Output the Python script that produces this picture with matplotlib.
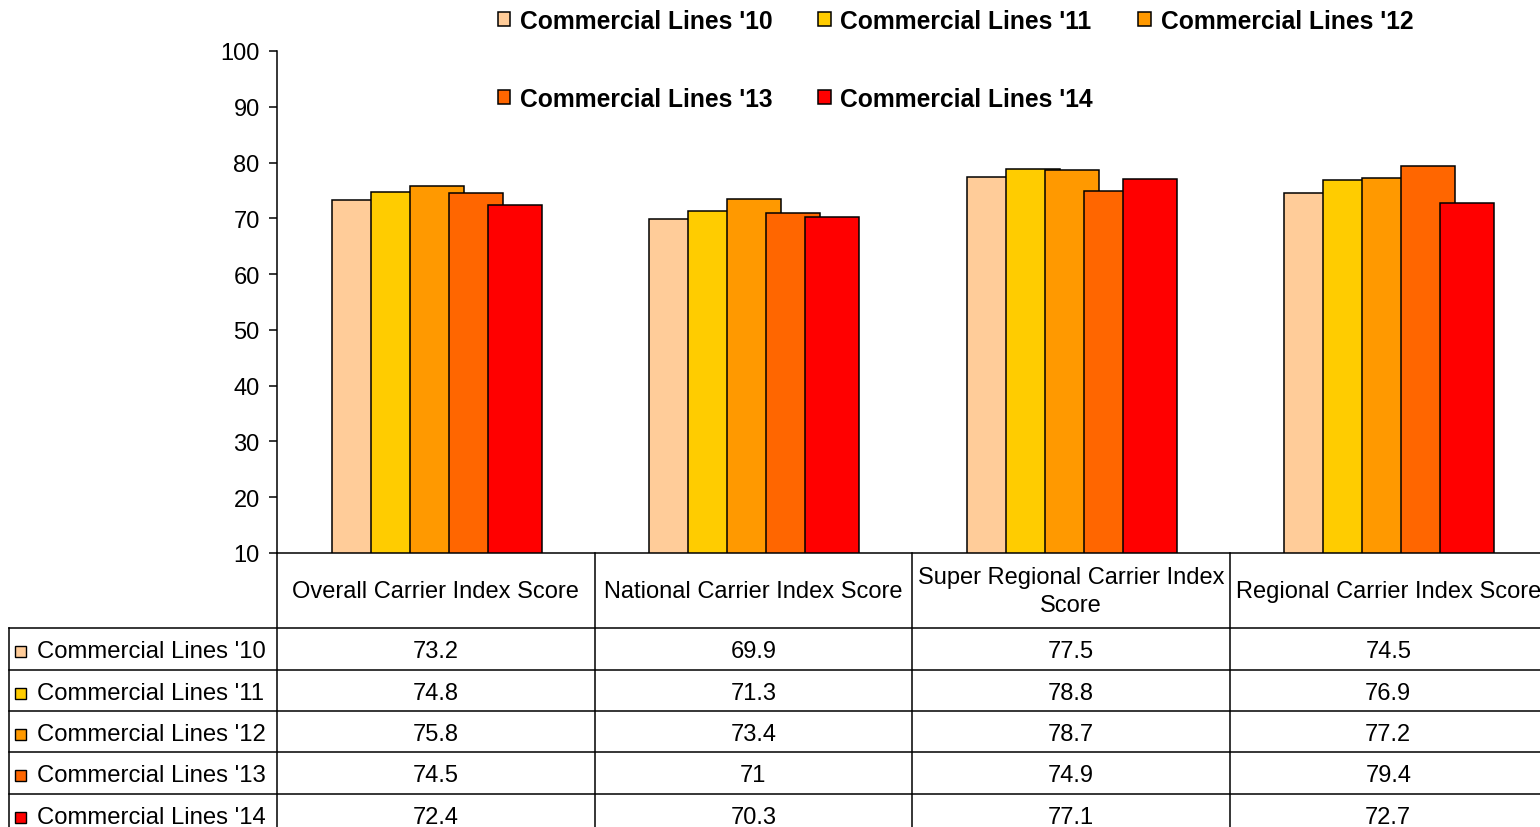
import matplotlib
matplotlib.use("Agg")
import matplotlib.pyplot as plt
import numpy as np
from matplotlib.patches import Rectangle
from matplotlib.transforms import blended_transform_factory

plt.rcParams['font.family'] = ['Liberation Sans', 'DejaVu Sans']

categories = ["Overall Carrier Index Score", "National Carrier Index Score",
              "Super Regional Carrier Index\nScore", "Regional Carrier Index Score"]
series = ["Commercial Lines '10", "Commercial Lines '11", "Commercial Lines '12",
          "Commercial Lines '13", "Commercial Lines '14"]
cl10 = [73.2, 69.9, 77.5, 74.5]
cl11 = [74.8, 71.3, 78.8, 76.9]
cl12 = [75.8, 73.4, 78.7, 77.2]
cl13 = [74.5, 71.0, 74.9, 79.4]
cl14 = [72.4, 70.3, 77.1, 72.7]
table_text = [["73.2", "69.9", "77.5", "74.5"],
              ["74.8", "71.3", "78.8", "76.9"],
              ["75.8", "73.4", "78.7", "77.2"],
              ["74.5", "71", "74.9", "79.4"],
              ["72.4", "70.3", "77.1", "72.7"]]
colors = ["#FFCC99", "#FFCC00", "#FF9900", "#FF6600", "#FF0000"]
values = [cl10, cl11, cl12, cl13, cl14]

W, H = 1540, 828
fig = plt.figure(figsize=(W / 100, H / 100), dpi=100)


def fx(p):
    return p / W


def fy(p):
    return 1 - p / H


ax_left, ax_right = 277, 1547
ax = fig.add_axes([fx(ax_left), fy(554), fx(ax_right) - fx(ax_left), fy(52) - fy(554)])
unit = (ax_right - ax_left) / 4.0


def dx(p):
    # pixel x -> data x
    return -0.5 + (p - ax_left) / unit


x = np.arange(len(categories))
pitch = 39 / unit
width = 54 / unit
start = -104 / unit
handles = []
for i, (name, vals, col) in enumerate(zip(series, values, colors)):
    b = ax.bar(x + start + i * pitch, vals, width=width, align='edge', color=col,
               edgecolor='black', linewidth=1.1, label=name)
    handles.append(b)

ax.set_xlim(-0.5, 3.5)
ax.set_ylim(10, 100)
ax.set_yticks(range(10, 101, 10))
ax.set_xticks([])
ax.spines['top'].set_visible(False)
ax.spines['right'].set_visible(False)
ax.spines['left'].set_linewidth(1.1)
ax.spines['bottom'].set_linewidth(1.1)
ax.tick_params(axis='y', length=6, width=1.1, pad=6.5, labelsize=17)

# legend, row-major order
order = [0, 3, 1, 4, 2]
fig.legend([handles[i] for i in order], [series[i] for i in order],
           loc='upper left', bbox_to_anchor=(fx(498), fy(10)), ncol=3, frameon=False,
           prop={'weight': 'bold', 'size': 17.7}, handlelength=0.5, handleheight=0.5,
           handletextpad=0.4, columnspacing=1.85, labelspacing=2.2, borderpad=0,
           borderaxespad=0)

# data table below
trans = blended_transform_factory(ax.transData, fig.transFigure)
lw = 1.1
row_lines = [629, 671, 712, 753, 795, 836]
col_lines = [-0.5, 0.5, 1.5, 2.5, 3.5]
xl = dx(9)
for yp in row_lines:
    ax.plot([xl, 3.5], [fy(yp), fy(yp)], color='black', lw=lw, transform=trans, clip_on=False)
ax.plot([xl, xl], [fy(629), fy(840)], color='black', lw=lw, transform=trans, clip_on=False)
for c in col_lines:
    ax.plot([c, c], [fy(554), fy(840)], color='black', lw=lw, transform=trans, clip_on=False)

for j, cat in enumerate(categories):
    ax.text(j, fy(592), cat, ha='center', va='center', fontsize=17, transform=trans,
            linespacing=1.35)

sq = 11
for r, (name, col) in enumerate(zip(series, colors)):
    yc = (row_lines[r] + row_lines[r + 1]) / 2 + 2.5
    ax.add_patch(Rectangle((dx(15), fy(yc + sq / 2)), sq / unit, sq / H, transform=trans,
                           facecolor=col, edgecolor='black', lw=1.0, clip_on=False))
    ax.text(dx(37), fy(yc), name, ha='left', va='center', fontsize=17.2, transform=trans)
    for j in range(len(categories)):
        ax.text(j, fy(yc), table_text[r][j], ha='center', va='center', fontsize=17,
                transform=trans)

fig.savefig("out.png", dpi=100)
